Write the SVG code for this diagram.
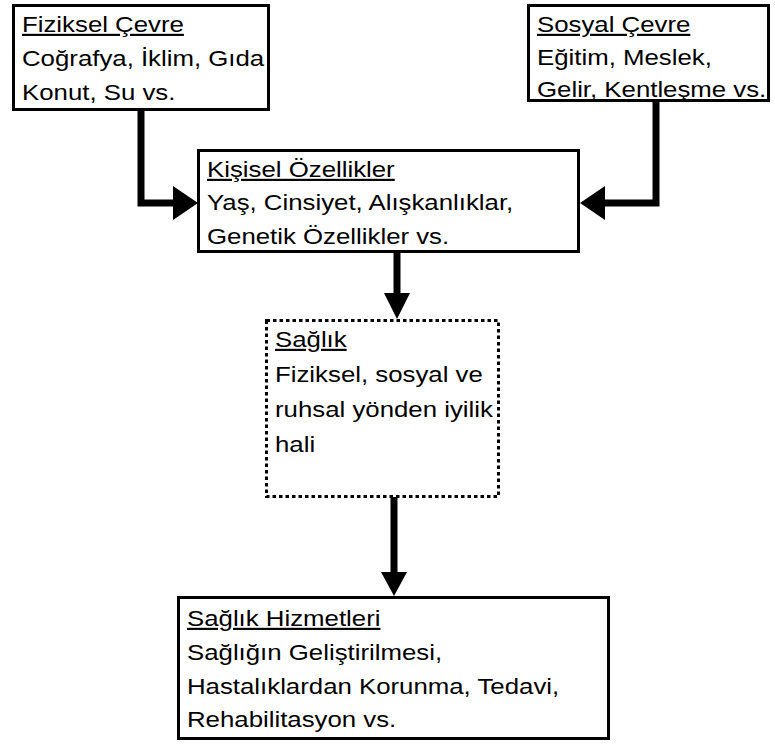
<svg xmlns="http://www.w3.org/2000/svg" width="775" height="744" viewBox="0 0 775 744">
  <style>
    .box { fill: #fff; stroke: #000; stroke-width: 3; }
    .dotted { fill: #fff; stroke: #000; stroke-width: 3; stroke-dasharray: 3.5 3; }
    .t { font-family: "Liberation Sans", Arial, sans-serif; font-size: 21.5px; fill: #000; }
    .title { text-decoration: underline; }
    .shaft { fill: none; stroke: #000; stroke-width: 7; stroke-linejoin: miter; }
    .head { fill: #000; }
  </style>
  <rect width="775" height="744" fill="#fff"/>

  <g id="connectors">
    <!-- Fiziksel Çevre -> Kişisel Özellikler -->
    <path class="shaft" d="M141 110 V203 H176"/>
    <polygon class="head" points="173,186 198,203 173,220"/>
    <!-- Sosyal Çevre -> Kişisel Özellikler -->
    <path class="shaft" d="M656 100 V203 H603"/>
    <polygon class="head" points="605,186 580,203 605,220"/>
    <!-- Kişisel Özellikler -> Sağlık -->
    <path class="shaft" d="M397 252 V296"/>
    <polygon class="head" points="384,293 410,293 397,319"/>
    <!-- Sağlık -> Sağlık Hizmetleri -->
    <path class="shaft" d="M394 497 V575"/>
    <polygon class="head" points="381,572 407,572 394,596"/>
  </g>

  <g id="fiziksel-cevre">
    <rect class="box" x="13.5" y="5.5" width="255" height="104"/>
    <g class="t" transform="translate(22 0) scale(1.2 1)">
      <text class="title" y="32">Fiziksel Çevre</text>
      <text y="66">Coğrafya, İklim, Gıda</text>
      <text y="100">Konut, Su vs.</text>
    </g>
  </g>

  <g id="sosyal-cevre">
    <rect class="box" x="528.5" y="5.5" width="240" height="95"/>
    <g class="t" transform="translate(537 0) scale(1.2 1)">
      <text class="title" y="32">Sosyal Çevre</text>
      <text y="65">Eğitim, Meslek,</text>
      <text y="97">Gelir, Kentleşme vs.</text>
    </g>
  </g>

  <g id="kisisel-ozellikler">
    <rect class="box" x="198.5" y="150.5" width="380" height="101"/>
    <g class="t" transform="translate(207 0) scale(1.2 1)">
      <text class="title" y="177">Kişisel Özellikler</text>
      <text y="210">Yaş, Cinsiyet, Alışkanlıklar,</text>
      <text y="244">Genetik Özellikler vs.</text>
    </g>
  </g>

  <g id="saglik">
    <rect class="dotted" x="266.5" y="320.5" width="232" height="176"/>
    <g class="t" transform="translate(275 0) scale(1.2 1)">
      <text class="title" y="347">Sağlık</text>
      <text y="382">Fiziksel, sosyal ve</text>
      <text y="417">ruhsal yönden iyilik</text>
      <text y="452">hali</text>
    </g>
  </g>

  <g id="saglik-hizmetleri">
    <rect class="box" x="178.5" y="597.5" width="430" height="141"/>
    <g class="t" transform="translate(187 0) scale(1.2 1)">
      <text class="title" y="626">Sağlık Hizmetleri</text>
      <text y="660">Sağlığın Geliştirilmesi,</text>
      <text y="694">Hastalıklardan Korunma, Tedavi,</text>
      <text y="727">Rehabilitasyon vs.</text>
    </g>
  </g>
</svg>
